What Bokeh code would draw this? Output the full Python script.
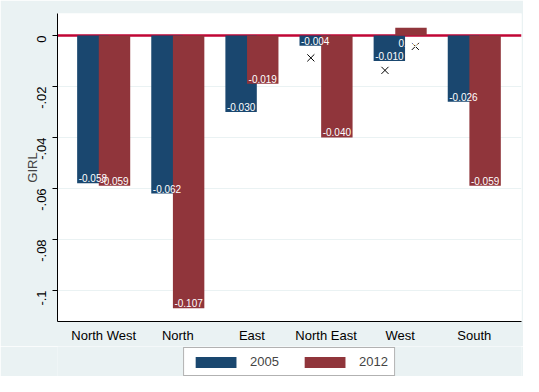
import math
from bokeh.plotting import figure
from bokeh.layouts import column
from bokeh.models import (ColumnDataSource, Range1d, FixedTicker, Legend, LegendItem, Span)
from bokeh.transform import dodge
from bokeh.core.properties import value
from bokeh.embed import file_html
from bokeh.resources import INLINE

# ---- data ----
regions = ["North West", "North", "East", "North East", "West", "South"]
girl_2005 = [-0.058, -0.062, -0.030, -0.004, -0.010, -0.026]
girl_2012 = [-0.059, -0.107, -0.019, -0.040, 0.003, -0.059]
# cross markers (only the visible ones; others hidden behind bars)
cross_2005 = [float("nan"), float("nan"), float("nan"), -0.0088, -0.0137, float("nan")]
cross_2012 = [float("nan"), float("nan"), float("nan"), float("nan"), -0.0043, float("nan")]
y_ticks = [0, -0.02, -0.04, -0.06, -0.08, -0.1]
y_tick_labels = ["0", "-.02", "-.04", "-.06", "-.08", "-.1"]
series = ["2005", "2012"]

NAVY = "#1a476f"
MAROON = "#90353b"
BG = "#eaf2f3"
FONT = "Liberation Sans"

idx = list(range(len(regions)))
src = ColumnDataSource(dict(
    x=idx,
    v05=girl_2005, v12=girl_2012,
    l05=["%.3f" % v for v in girl_2005],
    l12=["%.3f" % v for v in girl_2012],
    o05=[-5 if v < 0 else 15 for v in girl_2005],
    o12=[-5 if v < 0 else 15 for v in girl_2012],
    c05=cross_2005, c12=cross_2012,
))

p = figure(width=523, height=346, output_backend="svg", toolbar_location=None,
           x_range=Range1d(-0.623, 5.637), y_range=Range1d(-0.1122, 0.0086),
           min_border_left=53, min_border_right=2, min_border_top=13, min_border_bottom=25)
p.border_fill_color = BG
p.background_fill_color = "white"
p.outline_line_color = None

# zero line
p.add_layout(Span(location=0, dimension="width", line_color="#c10534", line_width=2.5, level="underlay"))

# cross markers (behind bars)
p.scatter(x=dodge("x", -0.205), y="c05", source=src, marker="x", size=10,
          line_color="black", line_width=1)
p.scatter(x=dodge("x", 0.205), y="c12", source=src, marker="x", size=10,
          line_color="black", line_width=1)

bw = 0.424
p.vbar(x=dodge("x", -0.146), top="v05", bottom=0, width=bw, source=src,
       fill_color=NAVY, line_color=None)
p.vbar(x=dodge("x", 0.146), top="v12", bottom=0, width=bw, source=src,
       fill_color=MAROON, line_color=None)

p.text(x=dodge("x", -0.146), y="v05", text="l05", source=src, y_offset="o05",
       text_align="center", text_baseline="alphabetic", text_color="white",
       text_font=value(FONT), text_font_size="10px")
p.text(x=dodge("x", 0.146), y="v12", text="l12", source=src, y_offset="o12",
       text_align="center", text_baseline="alphabetic", text_color="white",
       text_font=value(FONT), text_font_size="10px")

# axes
p.xaxis.ticker = FixedTicker(ticks=idx)
p.xaxis.major_label_overrides = {i: r for i, r in zip(idx, regions)}
p.xaxis.major_tick_line_color = None
p.xaxis.minor_tick_line_color = None
p.xaxis.major_label_standoff = 0
p.xaxis.major_label_text_font = FONT
p.xaxis.major_label_text_font_size = "13px"
p.xaxis.major_label_text_color = "black"
p.xaxis.axis_line_color = "black"

p.yaxis.ticker = FixedTicker(ticks=y_ticks)
p.yaxis.major_label_overrides = {t: l for t, l in zip(y_ticks, y_tick_labels)}
p.yaxis.major_label_orientation = math.pi / 2
p.yaxis.major_tick_out = 5
p.yaxis.major_tick_in = 0
p.yaxis.minor_tick_line_color = None
p.yaxis.major_label_standoff = 11
p.yaxis.major_label_text_font = FONT
p.yaxis.major_label_text_font_size = "13px"
p.yaxis.major_label_text_color = "black"
p.yaxis.axis_line_color = "black"
p.yaxis.axis_label = "GIRL"
p.yaxis.axis_label_text_font = FONT
p.yaxis.axis_label_text_font_size = "13px"
p.yaxis.axis_label_text_font_style = "normal"
p.yaxis.axis_label_standoff = -10

p.xgrid.grid_line_color = None
p.ygrid.ticker = FixedTicker(ticks=y_ticks)
p.ygrid.grid_line_color = BG
p.ygrid.grid_line_width = 1

# legend strip below the chart
lg = figure(width=523, height=30, output_backend="svg", toolbar_location=None,
            x_range=Range1d(0, 1), y_range=Range1d(0, 1),
            min_border_left=57, min_border_right=2,
            min_border_top=0, min_border_bottom=0)
lg.axis.visible = False
lg.grid.visible = False
lg.outline_line_color = None
lg.background_fill_color = BG
lg.border_fill_color = BG
# zero-size proxy bars that only supply the legend swatches
g05 = lg.vbar(x=[0.5], top=[0], bottom=[0], width=0, fill_color=NAVY, line_color=None)
g12 = lg.vbar(x=[0.5], top=[0], bottom=[0], width=0, fill_color=MAROON, line_color=None)
legend = Legend(items=[LegendItem(label=series[0], renderers=[g05]),
                       LegendItem(label=series[1], renderers=[g12])],
                orientation="horizontal", location="top",
                glyph_width=51, glyph_height=14, label_standoff=9, spacing=20,
                padding=6, margin=1,
                label_text_font=FONT, label_text_font_size="13px",
                border_line_color="#666666", border_line_width=1,
                background_fill_color="white", background_fill_alpha=1)
lg.add_layout(legend)

layout = column(p, lg, spacing=0)
open("out.html", "w").write(file_html(layout, INLINE))
